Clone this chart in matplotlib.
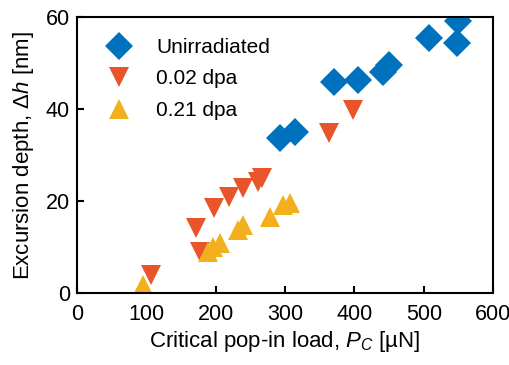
import numpy as np
import matplotlib.pyplot as plt

plt.rcParams['font.family'] = ['Liberation Sans', 'DejaVu Sans']
plt.rcParams['mathtext.fontset'] = 'custom'
plt.rcParams['mathtext.it'] = 'Liberation Sans:italic'
plt.rcParams['mathtext.rm'] = 'Liberation Sans'

# data
unirr_p = [293, 315, 371, 405, 441, 450, 508, 548, 550]
unirr_h = [33.7, 35.0, 45.9, 46.3, 48.0, 49.5, 55.4, 54.4, 59.2]

dpa002_p = [107, 171, 177, 198, 219, 240, 261, 267, 364, 398]
dpa002_h = [3.9, 14.1, 8.9, 18.5, 20.9, 22.8, 24.1, 25.0, 34.8, 39.8]

dpa021_p = [95, 189, 196, 206, 232, 240, 278, 297, 307]
dpa021_h = [1.7, 8.9, 10.0, 10.9, 13.7, 14.8, 16.5, 19.1, 19.5]

fig = plt.figure(figsize=(5.1, 3.65), dpi=100)
ax = fig.add_axes([0.151, 0.197, 0.816, 0.756])

ax.plot(unirr_p, unirr_h, 'D', color='#0072BD', markersize=14, markeredgewidth=0, label='Unirradiated')
ax.plot(dpa002_p, dpa002_h, 'v', color='#E8552A', markersize=15, markeredgewidth=0, label='0.02 dpa')
ax.plot(dpa021_p, dpa021_h, '^', color='#F2B01E', markersize=15, markeredgewidth=0, label='0.21 dpa')

ax.set_xlim(0, 600)
ax.set_ylim(0, 60)
ax.set_xticks([0, 100, 200, 300, 400, 500, 600])
ax.set_yticks([0, 20, 40, 60])
ax.tick_params(direction='in', labelsize=15.5, width=1.5, length=5)
ax.tick_params(axis='x', pad=8)
ax.tick_params(axis='y', pad=5)
for s in ax.spines.values():
    s.set_linewidth(1.5)

ax.set_xlabel(r'Critical pop-in load, $P_C$ [µN]', fontsize=16, labelpad=3)
ax.set_ylabel(r'Excursion depth, $\Delta h$ [nm]', fontsize=16, labelpad=7)

ax.legend(loc='upper left', frameon=False, fontsize=15, handletextpad=0.8, labelspacing=0.6,
          borderaxespad=0.4, borderpad=0.6)

fig.savefig('out.png', dpi=100)
